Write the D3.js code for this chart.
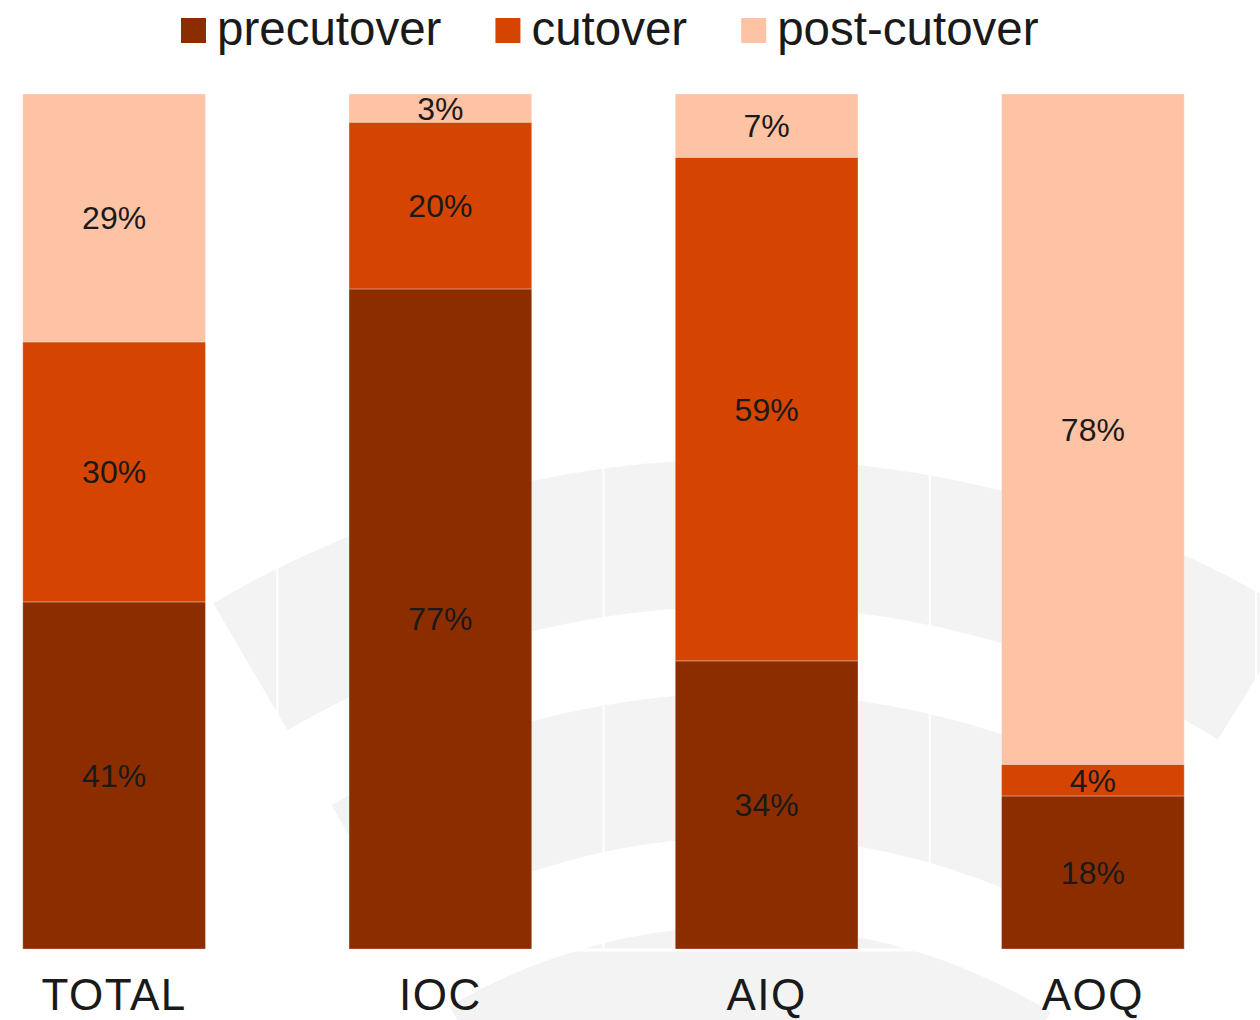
<!DOCTYPE html>
<html><head><meta charset="utf-8">
<script src="https://cdn.jsdelivr.net/npm/d3@7"></script>
<style>body{margin:0;background:#fff}svg{display:block}text{font-family:"Liberation Sans",Arial,Helvetica,sans-serif}</style>
</head><body><svg id="c" width="1260" height="1020"></svg>
<script>
const categories = ["TOTAL", "IOC", "AIQ", "AOQ"];
const seriesNames = ["precutover", "cutover", "post-cutover"];
const precutover = [40.6, 77.2, 33.7, 17.9];
const cutover = [30.4, 19.5, 58.9, 3.7];
const postCutover = [29.0, 3.3, 7.4, 78.4];
const colors = ["#8C2D00", "#D54400", "#FEC2A5"];

const W = 1260, H = 1020;
const svg = d3.select("#c");

// watermark (decorative)
const wm = svg.append("g").attr("transform", "translate(745,1511)");
const bands = [[905, 1052], [674, 818], [440, 585], [210, 351]];
const arcGen = d3.arc();
bands.forEach(b => {
  wm.append("path")
    .attr("d", arcGen({innerRadius: b[0], outerRadius: b[1], startAngle: -0.53, endAngle: 0.55}))
    .attr("fill", "#F3F3F3");
});

const rows = categories.map((c, i) => ({
  category: c,
  "precutover": precutover[i],
  "cutover": cutover[i],
  "post-cutover": postCutover[i]
}));

const stack = d3.stack().keys(seriesNames).offset(d3.stackOffsetExpand);
const stacked = stack(rows);

const x = d3.scaleBand().domain(categories).range([-49, 1256]).paddingInner(0.44).paddingOuter(0.22);
const y = d3.scaleLinear().domain([0, 1]).range([949, 94]);
const color = d3.scaleOrdinal().domain(seriesNames).range(colors);

// grid lines (white, visible only over watermark)
const step = x.step();
const grid = svg.append("g");
categories.forEach(c => {
  const gx = x(c) + x.bandwidth() + (step - x.bandwidth()) / 2;
  grid.append("line").attr("x1", gx).attr("x2", gx).attr("y1", y(1)).attr("y2", y(0))
    .attr("stroke", "#fff").attr("stroke-width", 2);
});
grid.append("line").attr("x1", 0).attr("x2", 1257).attr("y1", y(0) + 1).attr("y2", y(0) + 1)
  .attr("stroke", "#fff").attr("stroke-width", 3);

// bars
const layers = svg.append("g").selectAll("g").data(stacked).join("g")
  .attr("fill", d => color(d.key));
layers.selectAll("rect").data(d => d).join("rect")
  .attr("x", d => x(d.data.category))
  .attr("width", x.bandwidth())
  .attr("y", d => y(d[1]))
  .attr("height", d => y(d[0]) - y(d[1]))
  .attr("stroke", "rgba(255,255,255,0.3)")
  .attr("stroke-width", 1);

// value labels
const labels = svg.append("g");
stacked.forEach(s => {
  s.forEach(d => {
    labels.append("text")
      .attr("x", x(d.data.category) + x.bandwidth() / 2)
      .attr("y", (y(d[0]) + y(d[1])) / 2)
      .attr("dy", "0.36em")
      .attr("text-anchor", "middle")
      .attr("font-size", 32)
      .attr("fill", "#1a1a1a")
      .text(Math.round((d[1] - d[0]) * 100) + "%");
  });
});

// category axis labels
const xAxis = d3.axisBottom(x).tickSize(0).tickPadding(0);
const ax = svg.append("g").attr("transform", "translate(0,1010)").call(xAxis);
ax.select(".domain").remove();
ax.selectAll("text")
  .attr("dy", 0).attr("y", 0)
  .attr("font-size", 44)
  .attr("fill", "#1a1a1a")
  .attr("letter-spacing", "1.5px")
  .style("font-family", '"Liberation Sans",Arial,sans-serif');

// legend
const legend = svg.append("g");
let lx = 181;
seriesNames.forEach((n, i) => {
  legend.append("rect").attr("x", lx).attr("y", 18).attr("width", 25).attr("height", 25).attr("fill", colors[i]);
  const t = legend.append("text").attr("x", lx + 36).attr("y", 45)
    .attr("font-size", 47.5).attr("fill", "#1a1a1a").text(n);
  lx += 36 + t.node().getComputedTextLength() + 54;
});
</script></body></html>
